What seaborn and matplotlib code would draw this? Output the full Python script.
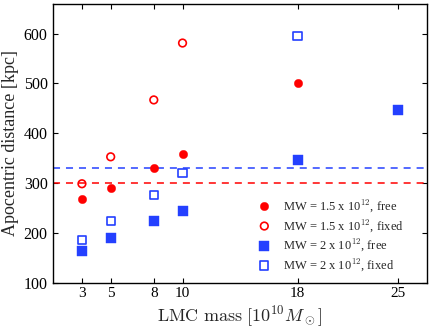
import matplotlib
matplotlib.use("Agg")
import matplotlib.pyplot as plt
import seaborn as sns
import pandas as pd

# ---- data ----
lmc_mass_a = [3, 5, 8, 10, 18]
mw15_free = [268, 291, 331, 359, 500]
lmc_mass_b = [3, 5, 8, 10]
mw15_fixed = [299, 353, 467, 581]
lmc_mass_c = [3, 5, 8, 10, 18, 25]
mw2_free = [165, 190, 224, 245, 346, 447]
lmc_mass_d = [3, 5, 8, 10, 18]
mw2_fixed = [187, 224, 277, 320, 595]
ref_red = 300
ref_blue = 330
xticks = [3, 5, 8, 10, 18, 25]
yticks = [100, 200, 300, 400, 500, 600]

sns.set_theme(style="ticks")
plt.rcParams['font.family'] = ['Liberation Serif', 'DejaVu Serif']
plt.rcParams['mathtext.fontset'] = 'cm'

RED = "#ff0000"
BLUE = "#2440ff"

fig = plt.figure(figsize=(4.36, 3.28), dpi=100)
ax = fig.add_axes([0.122, 0.137, 0.857, 0.852])

ax.axhline(ref_blue, color=BLUE, ls=(0, (4.6, 3.9)), lw=1.1, zorder=1)
ax.axhline(ref_red, color=RED, ls=(0, (4.6, 3.9)), lw=1.1, zorder=1)

sns.scatterplot(x=lmc_mass_a, y=mw15_free, ax=ax, marker='o', s=36,
                color=RED, edgecolor=RED, linewidth=0.3, zorder=3,
                label=r"MW = 1.5 x 10$^{12}$, free")
sns.scatterplot(x=lmc_mass_b, y=mw15_fixed, ax=ax, marker='o', s=30,
                color=RED, facecolors='none', edgecolor=RED, linewidth=1.2, zorder=3,
                label=r"MW = 1.5 x 10$^{12}$, fixed")
sns.scatterplot(x=lmc_mass_c, y=mw2_free, ax=ax, marker='s', s=42,
                color=BLUE, edgecolor=BLUE, linewidth=0.3, zorder=3,
                label=r"MW = 2 x 10$^{12}$, free")
sns.scatterplot(x=lmc_mass_d, y=mw2_fixed, ax=ax, marker='s', s=34,
                color=BLUE, facecolors='none', edgecolor=BLUE, linewidth=1.2, zorder=3,
                label=r"MW = 2 x 10$^{12}$, fixed")

ax.set_xlim(1, 27)
ax.set_ylim(100, 660)
ax.set_xticks(xticks)
ax.set_yticks(yticks)
ax.tick_params(direction='in', top=True, right=True, length=3.5, width=0.8,
               labelsize=11.5, colors='black', pad=4)
ax.tick_params(axis='x', pad=2.5, labelsize=11)
for sp in ax.spines.values():
    sp.set_linewidth(1.0)
    sp.set_color('black')

ax.set_xlabel(r"$\mathrm{LMC\ mass\ [10^{10}}M_\odot\mathrm{]}$", fontsize=13, labelpad=0)
ax.xaxis.set_label_coords(0.5, -0.074)
ax.set_ylabel("Apocentric distance [kpc]", fontsize=13, labelpad=3)

leg = ax.legend(loc='lower right', bbox_to_anchor=(0.965, 0.0), frameon=False,
                fontsize=9, handletextpad=0.9, labelspacing=0.25,
                borderaxespad=0.4, handlelength=1.2)

fig.savefig("out.png", dpi=100)
